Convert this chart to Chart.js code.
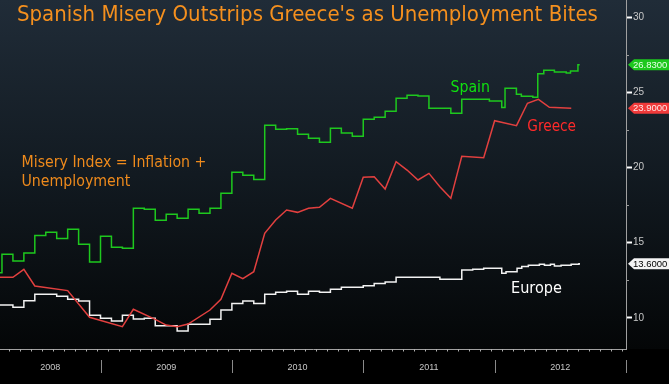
<!DOCTYPE html>
<html><head><meta charset="utf-8">
<script src="https://cdn.jsdelivr.net/npm/chart.js@4.4.0/dist/chart.umd.min.js"></script>
<style>html,body{margin:0;padding:0;background:#000;overflow:hidden}</style>
</head><body>
<canvas id="c" width="669" height="384"></canvas>
<script>
// x values are months since January 2008 (12 = Jan 2009, 24 = Jan 2010 ...)
const yearLabels = ['2008', '2009', '2010', '2011', '2012'];
const yearStarts = [0, 12, 24, 36, 48];

const spainMonths = [2,3,4,5,6,7,8,9,10,11,12,13,14,15,16,17,18,19,20,21,22,23,24,25,26,27,28,29,30,31,32,33,34,35,36,37,38,39,40,41,42,44,45,47.52,48.65,48.95,49.99,50.44,51.49,51.94,52.49,53.46,54.54,54.93,55.61,55.77];
const spainValues = [13.0,14.23,13.79,14.32,15.49,15.69,15.29,15.89,14.90,13.72,15.43,14.70,14.63,17.29,17.22,16.49,16.89,16.62,17.22,16.96,17.29,18.29,19.68,19.48,19.21,22.80,22.54,22.58,22.21,21.94,21.67,22.60,22.29,22.07,23.20,23.34,23.73,24.60,24.80,24.75,23.93,23.60,24.53,24.42,23.98,25.26,24.86,24.73,24.66,26.23,26.46,26.35,26.28,26.41,26.83,26.83];

const greeceMonths = [2,3,4,5,6,9,11,14,15,17,18,19,20,22,23,24,25,26,27,28,29,30,31,32,33,35,36,37,38,39,40,41,42,43,44,45,47,48,50,51,52,53,55];
const greeceValues = [12.70,12.70,12.70,13.23,12.13,11.82,10.05,9.42,10.58,9.91,9.53,9.42,9.60,10.53,11.24,12.97,12.62,13.08,15.63,16.51,17.18,17.02,17.29,17.36,17.95,17.29,19.35,19.39,18.57,20.39,19.83,19.17,19.61,18.72,17.95,20.74,20.65,23.11,22.78,24.27,24.53,24.00,23.93];

const europeMonths = [2,3,4,5,6,8,9,10,11,12,13,14,15,16,17,19,20,22,23,24,25,26,27,28,29,30,31,32,33,34,36,37,38,39,43,45,46,47,48.65,49.04,50.05,50.48,51.08,52.09,52.55,53.1,53.46,54.07,54.99,55.7,55.8];
const europeValues = [10.86,10.86,10.71,11.15,11.57,11.44,11.24,11.13,10.18,9.98,9.80,10.18,9.93,9.98,9.49,9.14,9.58,9.91,10.53,10.97,11.13,10.97,11.57,11.71,11.77,11.57,11.77,11.71,11.91,12.04,12.15,12.30,12.39,12.70,12.57,13.19,13.24,13.30,12.97,13.08,13.30,13.43,13.50,13.57,13.50,13.57,13.45,13.50,13.57,13.60,13.60];

const lastLabels = { spain: '26.8300', greece: '23.9000', europe: '13.6000' };

const X_MIN = 2.82, X_MAX = 60, Y_MIN = 7.94, Y_MAX = 31.13;
const FONT = '"DejaVu Sans Condensed", "DejaVu Sans", sans-serif';

function pts(xs, ys) { return xs.map((x, i) => ({ x: x, y: ys[i] })); }

function fitFont(ctx, text, target) {
  ctx.font = '20px ' + FONT;
  const w = ctx.measureText(text).width;
  return (20 * target / w).toFixed(2) + 'px ' + FONT;
}

function tag(ctx, x, y, fill, text, color) {
  const h = 11, w = 44;
  ctx.beginPath();
  ctx.moveTo(x, y);
  ctx.lineTo(x + 6, y - h / 2);
  ctx.lineTo(x + w, y - h / 2);
  ctx.lineTo(x + w, y + h / 2);
  ctx.lineTo(x + 6, y + h / 2);
  ctx.closePath();
  ctx.fillStyle = fill;
  ctx.fill();
  ctx.fillStyle = color;
  ctx.font = '9.5px "Liberation Sans", sans-serif';
  ctx.textAlign = 'left';
  ctx.textBaseline = 'middle';
  ctx.fillText(text, x + 5, y + 0.5);
}

const deco = {
  id: 'deco',
  beforeDraw(chart) {
    const { ctx, chartArea: a, width, height } = chart;
    ctx.save();
    ctx.fillStyle = '#000';
    ctx.fillRect(0, 0, width, height);
    const g = ctx.createLinearGradient(0, 0, 0, a.bottom);
    g.addColorStop(0, '#202c38');
    g.addColorStop(0.5, '#121a21');
    g.addColorStop(1, '#040607');
    ctx.fillStyle = g;
    ctx.fillRect(0, 0, width, a.bottom);
    ctx.restore();
  },
  afterDraw(chart) {
    const { ctx, chartArea: a } = chart;
    const xs = chart.scales.x, ys = chart.scales.y;
    ctx.save();
    // monthly ticks on the time axis
    ctx.strokeStyle = '#b0b0b0';
    ctx.lineWidth = 1;
    for (let m = 3; m <= 60; m++) {
      const px = Math.round(xs.getPixelForValue(m + 0.65)) + 0.5;
      if (px > a.right) continue;
      ctx.beginPath(); ctx.moveTo(px, a.bottom); ctx.lineTo(px, a.bottom + 2.5); ctx.stroke();
    }
    // year separators
    ctx.strokeStyle = '#8a8a8a';
    for (const s of [12, 24, 36, 48, 60]) {
      const px = Math.round(xs.getPixelForValue(s)) + 0.5;
      ctx.beginPath(); ctx.moveTo(px, 360); ctx.lineTo(px, 373); ctx.stroke();
    }
    // minor ticks on value axis
    ctx.strokeStyle = '#9a9a9a';
    for (const v of [12.5, 17.5, 22.5, 27.5]) {
      const py = Math.round(ys.getPixelForValue(v)) + 0.5;
      ctx.beginPath(); ctx.moveTo(a.right, py); ctx.lineTo(a.right + 3, py); ctx.stroke();
    }
    // last value tags
    tag(ctx, a.right + 2, ys.getPixelForValue(spainValues[spainValues.length - 1]), '#1ec81e', lastLabels.spain, '#e8ffe8');
    tag(ctx, a.right + 2, ys.getPixelForValue(greeceValues[greeceValues.length - 1]), '#f03a3a', lastLabels.greece, '#ffe8e8');
    tag(ctx, a.right + 2, ys.getPixelForValue(europeValues[europeValues.length - 1]), '#f4f4f4', lastLabels.europe, '#000');

    // texts
    ctx.textAlign = 'left';
    ctx.textBaseline = 'alphabetic';
    const title = "Spanish Misery Outstrips Greece's as Unemployment Bites";
    ctx.font = fitFont(ctx, title, 581);
    ctx.fillStyle = '#f5901e';
    ctx.fillText(title, 17, 21);

    const l1 = 'Misery Index = Inflation +', l2 = 'Unemployment';
    ctx.font = fitFont(ctx, l1, 185);
    ctx.fillStyle = '#ee8a1c';
    ctx.fillText(l1, 21.5, 166.5);
    ctx.fillText(l2, 21.5, 185.5);

    ctx.font = fitFont(ctx, 'Spain', 39.5);
    ctx.fillStyle = '#10e010';
    ctx.fillText('Spain', 450.5, 91.5);

    ctx.font = fitFont(ctx, 'Greece', 48.7);
    ctx.fillStyle = '#ff2a2a';
    ctx.fillText('Greece', 527.3, 130.5);

    ctx.font = fitFont(ctx, 'Europe', 51);
    ctx.fillStyle = '#ffffff';
    ctx.fillText('Europe', 511, 293);
    ctx.restore();
  }
};

new Chart(document.getElementById('c'), {
  type: 'line',
  data: {
    datasets: [
      { label: 'Spain', data: pts(spainMonths, spainValues), borderColor: '#1ec81e', borderWidth: 1.5, stepped: true, pointRadius: 0 },
      { label: 'Greece', data: pts(greeceMonths, greeceValues), borderColor: '#e2403f', borderWidth: 1.5, tension: 0, pointRadius: 0 },
      { label: 'Europe', data: pts(europeMonths, europeValues), borderColor: '#f2f2f2', borderWidth: 1.5, stepped: true, pointRadius: 0 }
    ]
  },
  options: {
    responsive: false,
    animation: false,
    devicePixelRatio: 1,
    layout: { padding: 0 },
    plugins: { legend: { display: false }, tooltip: { enabled: false }, title: { display: false } },
    scales: {
      x: {
        type: 'linear', position: 'bottom', min: X_MIN, max: X_MAX,
        afterBuildTicks(scale) {
          scale.ticks = yearStarts.map(s => ({ value: (Math.max(s, X_MIN) + Math.min(s + 12, X_MAX)) / 2 }));
        },
        ticks: {
          autoSkip: false, maxRotation: 0, padding: 13, color: '#c8c8c8',
          font: { family: '"Liberation Sans", sans-serif', size: 9 },
          callback: (v, i) => yearLabels[i]
        },
        grid: { display: false, drawTicks: false },
        border: { display: true, color: '#a0a0a0', width: 1 },
        afterFit(scale) { scale.height = 35; scale.paddingLeft = 0; scale.paddingRight = 0; }
      },
      y: {
        type: 'linear', position: 'right', min: Y_MIN, max: Y_MAX,
        ticks: {
          stepSize: 5, includeBounds: false, padding: 1, color: '#c8c8c8',
          font: { family: '"Liberation Sans", sans-serif', size: 10 }
        },
        grid: { drawOnChartArea: false, drawTicks: true, tickLength: 6, tickColor: '#ffffff', tickWidth: 2 },
        border: { display: true, color: '#a0a0a0', width: 1 },
        afterFit(scale) { scale.width = 43; scale.paddingTop = 0; scale.paddingBottom = 0; }
      }
    }
  },
  plugins: [deco]
});
</script>
</body></html>
